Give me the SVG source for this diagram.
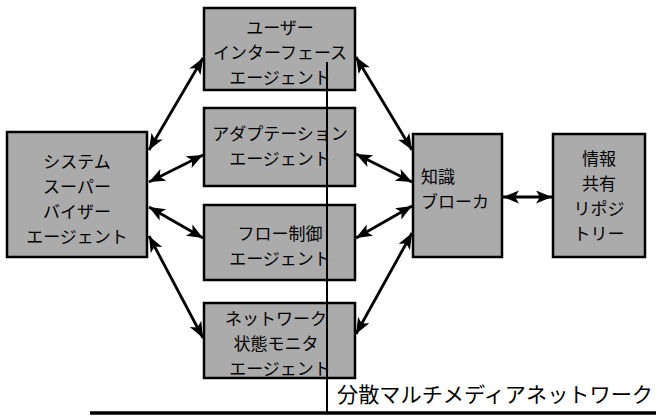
<svg xmlns="http://www.w3.org/2000/svg" width="656" height="419" viewBox="0 0 656 419">
<style>
.box{fill:#ababab;stroke:#000;stroke-width:2.5}
.t{font-family:"Noto Sans CJK JP","Noto Sans CJK SC",sans-serif;font-size:17px;fill:#000;text-anchor:middle}
.l{text-anchor:start}
.c{fill:none;stroke:#000;stroke-width:2.8;marker-start:url(#ah);marker-end:url(#ah)}
.net{fill:none;stroke:#000}
</style>
<defs>
<marker id="ah" markerUnits="userSpaceOnUse" markerWidth="18" markerHeight="14" refX="16" refY="6.5" orient="auto-start-reverse">
<path d="M0,0 L16,6.5 L0,13 L4,6.5 z" fill="#000"/>
</marker>
</defs>
<rect width="656" height="419" fill="#fff"/>
<g id="supervisor"><rect class="box" x="7" y="132" width="140" height="125"/>
<text class="t" x="77" y="168">システム</text><text class="t" x="77" y="193">スーパー</text><text class="t" x="77" y="218">バイザー</text><text class="t" x="77" y="243">エージェント</text></g>
<g id="ui"><rect class="box" x="204" y="8" width="151" height="82"/>
<text class="t" x="280" y="34">ユーザー</text><text class="t" x="280" y="59">インターフェース</text><text class="t" x="280" y="84">エージェント</text></g>
<g id="adapt"><rect class="box" x="204" y="108" width="151" height="78"/>
<text class="t" x="280" y="140">アダプテーション</text><text class="t" x="280" y="165">エージェント</text></g>
<g id="flow"><rect class="box" x="204" y="205" width="151" height="75"/>
<text class="t" x="280" y="240">フロー制御</text><text class="t" x="280" y="265">エージェント</text></g>
<g id="netmon"><rect class="box" x="204" y="303" width="151" height="75"/>
<text class="t" x="276" y="325">ネットワーク</text><text class="t" x="276" y="350">状態モニタ</text><text class="t" x="280" y="375">エージェント</text></g>
<g id="broker"><rect class="box" x="413" y="134" width="89" height="123"/>
<text class="t l" x="421" y="183">知識</text><text class="t l" x="421" y="208">ブローカ</text></g>
<g id="repo"><rect class="box" x="553" y="134" width="92" height="123"/>
<text class="t" x="599" y="165">情報</text><text class="t" x="599" y="190">共有</text><text class="t" x="599" y="215">リポジ</text><text class="t" x="599" y="240">トリー</text></g>
<g id="network">
<line class="net" x1="327" y1="62" x2="327" y2="413" stroke-width="2"/>
<line class="net" x1="90" y1="413" x2="656" y2="413" stroke-width="3.5"/>
<text class="t l" x="337" y="402" style="font-size:21px" textLength="316" lengthAdjust="spacingAndGlyphs">分散マルチメディアネットワーク</text>
</g>
<g id="connectors">
<line class="c" x1="149" y1="150" x2="203" y2="58"/>
<line class="c" x1="149" y1="182" x2="203" y2="155"/>
<line class="c" x1="149" y1="207" x2="203" y2="238"/>
<line class="c" x1="149" y1="236" x2="203" y2="338"/>
<line class="c" x1="356" y1="57" x2="412" y2="150"/>
<line class="c" x1="356" y1="154" x2="412" y2="182"/>
<line class="c" x1="356" y1="238" x2="412" y2="206"/>
<line class="c" x1="356" y1="334" x2="412" y2="233"/>
<line class="c" x1="503" y1="197" x2="552" y2="197"/>
</g>
</svg>
